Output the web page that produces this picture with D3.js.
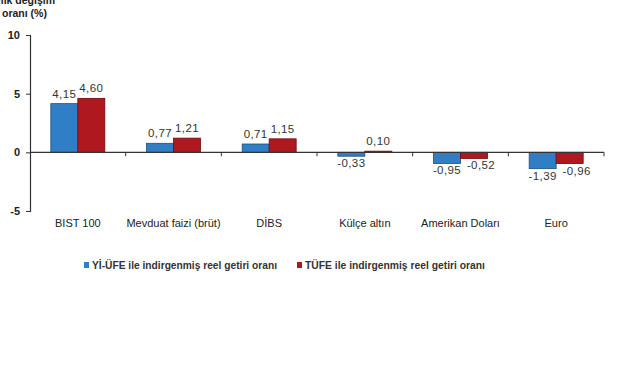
<!DOCTYPE html>
<html><head><meta charset="utf-8">
<script src="https://cdn.jsdelivr.net/npm/d3@7"></script>
<style>body{margin:0;background:#fff}svg{display:block;font-family:"Liberation Sans",Arial,sans-serif}</style>
</head><body>
<script>
const categories = ["BIST 100","Mevduat faizi (brüt)","DİBS","Külçe altın","Amerikan Doları","Euro"];
const seriesNames = ["Yİ-ÜFE ile indirgenmiş reel getiri oranı","TÜFE ile indirgenmiş reel  getiri  oranı"];
const yiUfe = [4.15,0.77,0.71,-0.33,-0.95,-1.39];
const tufe = [4.60,1.21,1.15,0.10,-0.52,-0.96];
const yTicks = [-5,0,5,10];
const colors = ["#2f7ec6","#b01820"];
const strokes = ["#1d4f80","#6e0a0e"];

const W=641,H=380;
const svg=d3.select("body").append("svg").attr("width",W).attr("height",H);
const y=d3.scaleLinear().domain([-5,10]).range([211,35]);
const x=d3.scaleBand().domain(categories).range([30,604]).paddingInner(0).paddingOuter(0);
const inner=d3.scaleBand().domain([0,1]).range([0,54]);
const off=(x.bandwidth()-54)/2;

// title (partly cut at the top edge, as in the reference)
svg.append("text").attr("x",55).attr("y",4).attr("text-anchor","end").attr("font-size",10.5)
  .attr("font-weight","bold").attr("fill","#222").text("Aylık değişim");
svg.append("text").attr("x",2).attr("y",17).attr("font-size",10.5)
  .attr("font-weight","bold").attr("fill","#222").text("oranı (%)");

// bars
const data=categories.map((c,i)=>({c,v:[yiUfe[i],tufe[i]]}));
const g=svg.append("g");
data.forEach(d=>{
  d.v.forEach((v,k)=>{
    const bx=x(d.c)+off+inner(k);
    g.append("rect").attr("x",bx).attr("width",inner.bandwidth())
      .attr("y",y(Math.max(0,v))).attr("height",Math.abs(y(v)-y(0)))
      .attr("fill",colors[k]).attr("stroke",strokes[k]).attr("stroke-width",0.8);
    const lbl=v.toFixed(2).replace(".",",");
    g.append("text").attr("x",bx+inner.bandwidth()/2+(v<0&&k===1?7:0))
      .attr("y",v>=0?y(v)-6:y(v)+11)
      .attr("text-anchor","middle").attr("font-size",11.5).attr("letter-spacing",0.4).attr("fill","#333").text(lbl);
  });
});

// y axis
const ya=svg.append("g").attr("transform","translate(30,0)")
  .call(d3.axisLeft(y).tickValues(yTicks).tickSize(4).tickPadding(6).tickFormat(d=>String(d)));
ya.select(".domain").attr("stroke","#333").attr("stroke-width",1.2);
ya.selectAll(".tick line").attr("stroke","#333");
ya.selectAll("text").attr("font-size",11).attr("font-weight","bold").attr("fill","#222").attr("font-family","Liberation Sans, Arial, sans-serif");

// x axis line at zero with boundary ticks
const xa=svg.append("g");
xa.append("line").attr("x1",30).attr("x2",604).attr("y1",y(0)).attr("y2",y(0)).attr("stroke","#333").attr("stroke-width",1.2);
categories.forEach((c,i)=>{ if(i>0){
  xa.append("line").attr("x1",x(c)).attr("x2",x(c)).attr("y1",y(0)).attr("y2",y(0)+4).attr("stroke","#333");
}});
xa.append("line").attr("x1",604).attr("x2",604).attr("y1",y(0)).attr("y2",y(0)+4).attr("stroke","#333");
categories.forEach(c=>{
  xa.append("text").attr("x",x(c)+x.bandwidth()/2).attr("y",227).attr("text-anchor","middle")
    .attr("font-size",11).attr("fill","#222").text(c);
});

// legend
const lg=svg.append("g");
const lx=[84,297];
seriesNames.forEach((n,k)=>{
  lg.append("rect").attr("x",lx[k]).attr("y",262).attr("width",5).attr("height",6).attr("fill",colors[k]);
  lg.append("text").attr("x",lx[k]+8).attr("y",269).attr("font-size",10.5).attr("font-weight","bold").attr("fill","#333")
    .attr("textLength",k==0?185:180).attr("lengthAdjust","spacingAndGlyphs").text(n);
});
</script>
</body></html>
